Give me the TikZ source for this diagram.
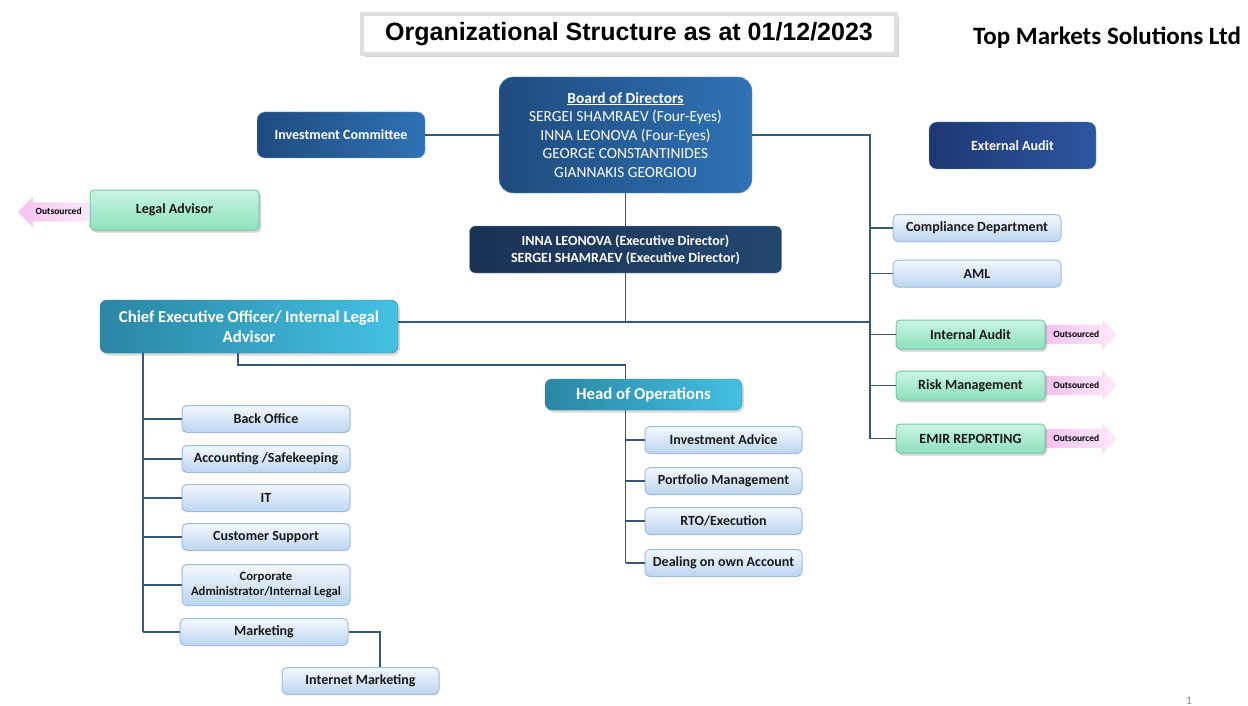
\documentclass[tikz,border=0pt]{standalone}
\usepackage{fontspec}
\setmainfont{Carlito}
\newfontfamily\titlefont{Liberation Sans}
\usetikzlibrary{shapes.arrows,shadows}
\definecolor{linkblue}{HTML}{34567F}
\definecolor{boardleft}{HTML}{1F4B7E}
\definecolor{boardright}{HTML}{2F72B5}
\definecolor{extleft}{HTML}{1C3872}
\definecolor{extright}{HTML}{2F56A2}
\definecolor{execleft}{HTML}{1A3254}
\definecolor{execright}{HTML}{244770}
\definecolor{tealleft}{HTML}{2A86A4}
\definecolor{tealright}{HTML}{44C0E3}
\definecolor{paletop}{HTML}{F3F8FE}
\definecolor{palebottom}{HTML}{BCD5F0}
\definecolor{paleborder}{HTML}{9DBCE0}
\definecolor{mintlight}{HTML}{C9F5E2}
\definecolor{mintdark}{HTML}{8EE0BD}
\definecolor{mintborder}{HTML}{79C8A4}
\definecolor{pinkdark}{HTML}{F6C2F1}
\definecolor{pinklight}{HTML}{FDEAFB}

\begin{document}
\begin{tikzpicture}[
    x=1pt, y=-1pt,
    every node/.style={align=center, inner sep=2pt},
    link/.style={draw=linkblue, line width=1.8pt},
    bluebox/.style={rounded corners=9pt, draw=boardright!70!white, text=white,
      left color=boardleft, right color=boardright},
    navybox/.style={rounded corners=6pt, draw=execright!60!white, text=white,
      left color=execleft, right color=execright,
      font=\bfseries\fontsize{14}{17}\selectfont,
      minimum width=312pt, minimum height=47pt},
    tealbox/.style={rounded corners=7pt, draw=tealright!70!black, text=white,
      left color=tealleft, right color=tealright,
      drop shadow={opacity=.3, shadow xshift=2pt, shadow yshift=-2.5pt}},
    palebox/.style={rounded corners=5pt, draw=paleborder, line width=1pt,
      top color=paletop, bottom color=palebottom, text=black!90,
      font=\bfseries\fontsize{14}{16}\selectfont,
      minimum width=168pt, minimum height=27pt},
    mintbox/.style={rounded corners=4pt, draw=mintborder, line width=1pt,
      top color=mintlight, bottom color=mintdark, text=black!90,
      font=\bfseries\fontsize{14}{16}\selectfont,
      minimum width=149pt, minimum height=29pt,
      drop shadow={opacity=.35, shadow xshift=2pt, shadow yshift=-2.5pt}},
    outarrow/.style={single arrow, single arrow head extend=5.5pt,
      minimum height=72pt, minimum width=30pt, inner sep=5pt,
      text height=7pt, text depth=2pt, left color=pinkdark, right color=pinklight,
      font=\bfseries\fontsize{9.5}{11}\selectfont, anchor=tail},
  ]
\useasboundingbox (0,0) rectangle (1248,706);

\node[minimum width=534pt, minimum height=40pt, fill=white, draw=black!13,
  line width=4pt, drop shadow={opacity=.35, shadow xshift=3pt, shadow yshift=-3pt},
  font=\titlefont\bfseries\fontsize{25}{28}\selectfont] (title) at (629,34)
  {Organizational Structure as at 01/12/2023};
\node[font=\bfseries\fontsize{25}{28}\selectfont] (company) at (1107,38)
  {Top Markets Solutions Ltd};

\node[bluebox, rounded corners=14pt, minimum width=253pt, minimum height=116pt,
  font=\fontsize{15.4}{18.6}\selectfont] (board) at (625.5,135)
  {\textbf{\underline{Board of Directors}}\\SERGEI SHAMRAEV (Four-Eyes)\\
   INNA LEONOVA (Four-Eyes)\\GEORGE CONSTANTINIDES\\GIANNAKIS GEORGIOU};
\node[bluebox, rounded corners=8pt, minimum width=168pt, minimum height=46pt,
  font=\bfseries\fontsize{14}{16}\selectfont] (invcom) at (341,135)
  {Investment Committee};
\node[bluebox, rounded corners=8pt, minimum width=167pt, minimum height=47pt,
  left color=extleft, right color=extright,
  font=\bfseries\fontsize{14}{16}\selectfont] (extaudit) at (1012.5,145.5)
  {External Audit};

\node[outarrow, shape border rotate=180] (legalout) at (90,212) {Outsourced};
\node[mintbox, minimum width=169pt, minimum height=40pt] (legal) at (174.5,210)
  {Legal Advisor};

\node[navybox] (exec) at (625.5,249.5)
  {INNA LEONOVA (Executive Director)\\SERGEI SHAMRAEV (Executive Director)};

\node[tealbox, minimum width=298pt, minimum height=53pt,
  font=\bfseries\fontsize{16.7}{20}\selectfont] (ceo) at (249,326.5)
  {Chief Executive Officer/ Internal Legal\\Advisor};
\node[tealbox, minimum width=197pt, minimum height=31pt,
  font=\bfseries\fontsize{16.7}{19}\selectfont] (hops) at (643.5,394.5)
  {Head of Operations};

\node[palebox] (comp) at (977,228) {Compliance Department};
\node[palebox] (aml) at (977,273.5) {AML};
\node[outarrow] (iaout) at (1045,334.5) {Outsourced};
\node[outarrow] (riskout) at (1045,385.5) {Outsourced};
\node[outarrow] (emirout) at (1045,438.5) {Outsourced};
\node[mintbox] (ia) at (970.5,334.5) {Internal Audit};
\node[mintbox] (risk) at (970.5,385.5) {Risk Management};
\node[mintbox] (emir) at (970.5,438.5) {EMIR REPORTING};

\node[palebox] (back) at (266,419) {Back Office};
\node[palebox] (acct) at (266,459) {Accounting /Safekeeping};
\node[palebox] (it) at (266,498) {IT};
\node[palebox] (cust) at (266,537) {Customer Support};
\node[palebox, minimum height=41pt, font=\bfseries\fontsize{12.7}{15}\selectfont]
  (corp) at (266,585) {Corporate\\Administrator/Internal Legal};
\node[palebox] (mkt) at (264,632) {Marketing};
\node[palebox, minimum width=157pt] (inet) at (360.5,681) {Internet Marketing};

\node[palebox, minimum width=157pt] (adv) at (723.5,440) {Investment Advice};
\node[palebox, minimum width=157pt] (port) at (723.5,481) {Portfolio Management};
\node[palebox, minimum width=157pt] (rto) at (723.5,521) {RTO/Execution};
\node[palebox, minimum width=157pt] (deal) at (723.5,563) {Dealing on own Account};

\node[text=black!45, font=\fontsize{12}{14}\selectfont] (page) at (1189,701) {1};

\coordinate (rbus) at (870,438.5);
\coordinate (cj) at (625.5,322);
\coordinate (hj) at (238,365);
\coordinate (obus) at (625.5,563);
\coordinate (cbus) at (143,632);
\coordinate (imj) at (380,667);

\draw[link] (invcom) -- (board);
\draw[link] (board.east) -| (rbus);
\foreach \n in {comp,aml,ia,risk,emir}
  \draw[link] (\n.west -| rbus) -- (\n.west);
\draw[link] (board.south) -- (exec.north);
\draw[link] (exec.south) -- (cj);
\draw[link] (cj -| ceo.east) -- (cj -| rbus);
\draw[link] (hj |- ceo.south) -- (hj) -| (obus |- hops.north);
\draw[link] (obus |- hops.south) -- (obus);
\foreach \n in {adv,port,rto,deal}
  \draw[link] (\n.west -| obus) -- (\n.west);
\draw[link] (cbus |- ceo.south) -- (cbus);
\foreach \n in {back,acct,it,cust,corp,mkt}
  \draw[link] (\n.west -| cbus) -- (\n.west);
\draw[link] (mkt.east) -| (imj |- inet.north);
\end{tikzpicture}
\end{document}
